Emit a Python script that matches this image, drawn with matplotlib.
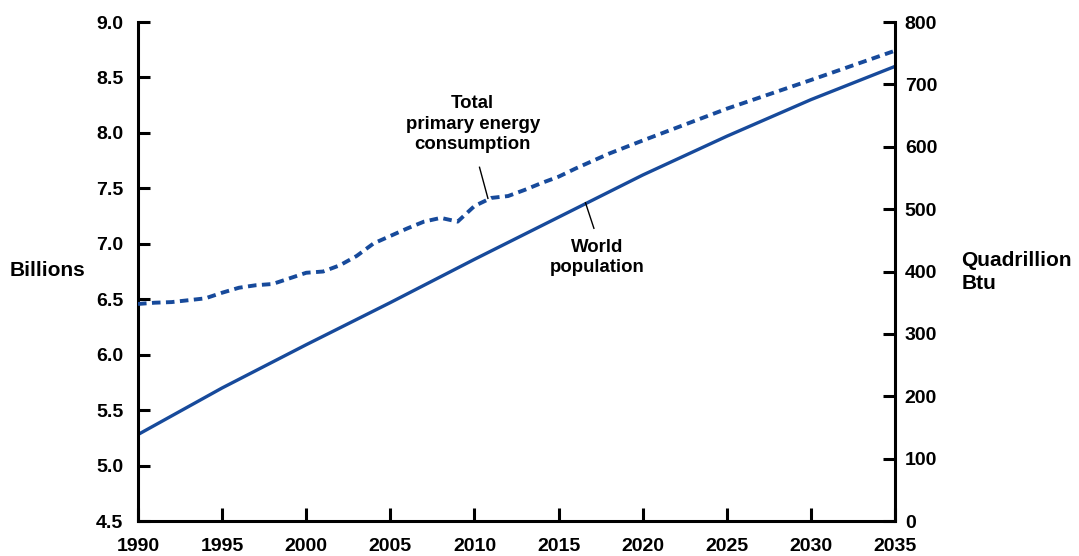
import matplotlib.pyplot as plt

plt.rcParams['font.family'] = ['Liberation Sans', 'DejaVu Sans']
plt.rcParams['font.weight'] = 'bold'

# World population (billions)
pop_years = [1990, 1995, 2000, 2005, 2010, 2015, 2020, 2025, 2030, 2035]
population = [5.28, 5.70, 6.09, 6.47, 6.86, 7.24, 7.62, 7.97, 8.30, 8.60]

# Total primary energy consumption (quadrillion Btu)
energy_years = [1990, 1991, 1992, 1993, 1994, 1995, 1996, 1997, 1998, 1999,
                2000, 2001, 2002, 2003, 2004, 2005, 2006, 2007, 2008, 2009,
                2010, 2011, 2012, 2013, 2014, 2015, 2016, 2018, 2020, 2025,
                2030, 2035]
energy = [348, 350, 351, 354, 357, 366, 374, 378, 380, 389,
          398, 400, 410, 425, 445, 457, 469, 480, 486, 480,
          505, 518, 521, 531, 542, 552, 565, 589, 610, 661,
          707, 754]

blue = '#174a9b'

fig = plt.figure(figsize=(10.79, 5.56), dpi=100)
ax = fig.add_axes([0.1279, 0.0629, 0.7016, 0.8975])
ax2 = ax.twinx()

ax.plot(pop_years, population, color=blue, lw=2.4, solid_capstyle='butt')
ax2.plot(energy_years, energy, color=blue, lw=2.8, dashes=(2.2, 1.4))

ax.set_xlim(1990, 2035)
ax.set_ylim(4.5, 9.0)
ax2.set_ylim(0, 800)
ax.set_xticks(range(1990, 2036, 5))
ax.set_yticks([4.5, 5.0, 5.5, 6.0, 6.5, 7.0, 7.5, 8.0, 8.5, 9.0])
ax.set_yticklabels([f'{v:.1f}' for v in ax.get_yticks()])
ax2.set_yticks(range(0, 801, 100))

for a in (ax, ax2):
    a.spines['top'].set_visible(False)
    for s in a.spines.values():
        s.set_linewidth(2.2)
    a.tick_params(direction='in', length=8.5, width=2.2, labelsize=14)
ax.spines['right'].set_visible(False)
ax2.spines['left'].set_visible(False)
ax2.spines['bottom'].set_visible(False)
ax.tick_params(axis='y', pad=10.5)
ax.tick_params(axis='x', pad=12.5, length=9.5)
ax2.tick_params(axis='y', pad=7)

fig.text(0.009, 0.513, 'Billions', fontsize=15, fontweight='bold', va='center')
fig.text(0.891, 0.511, 'Quadrillion\nBtu', fontsize=15, fontweight='bold',
         va='center', linespacing=1.3)

ax.text(2009.9, 8.08, 'Total\nprimary energy\nconsumption', fontsize=13.4,
        fontweight='bold', ha='center', va='center', linespacing=1.24)
ax.plot([2010.3, 2010.8], [7.69, 7.41], color='black', lw=1)
ax.text(2017.3, 6.88, 'World\npopulation', fontsize=13.4, fontweight='bold',
        ha='center', va='center', linespacing=1.24)
ax.plot([2016.6, 2017.1], [7.37, 7.14], color='black', lw=1)

fig.savefig('out.png', dpi=100)
